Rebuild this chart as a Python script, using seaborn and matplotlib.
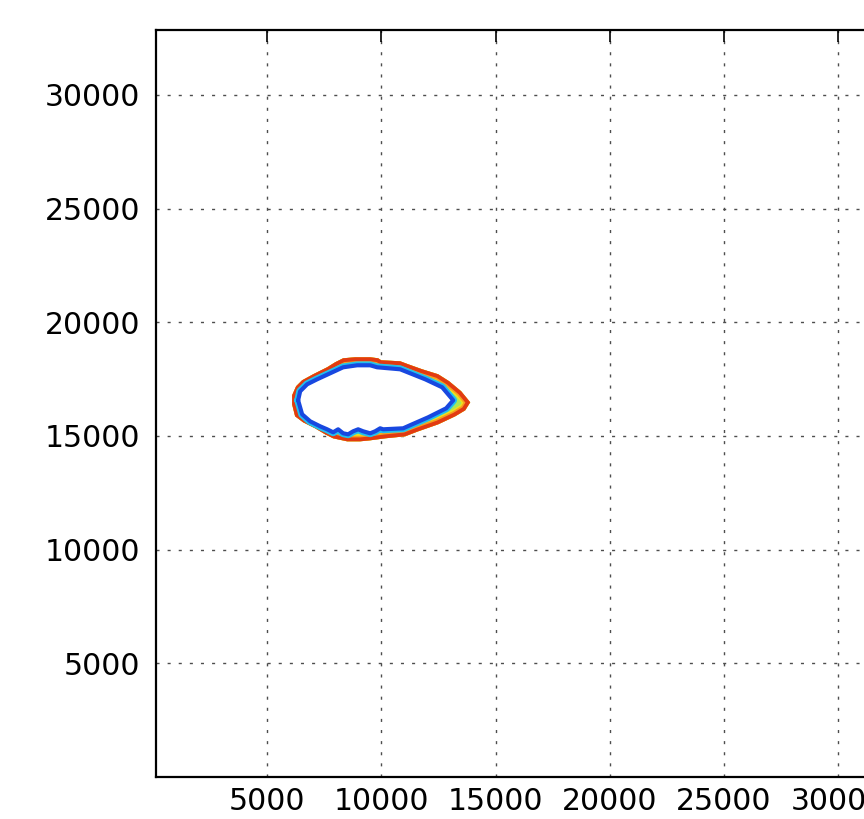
import numpy as np
import pandas as pd
import matplotlib
matplotlib.use("Agg")
import matplotlib.pyplot as plt
from matplotlib.patches import Polygon
import seaborn as sns

# ---- data (data units) ----
outer_x = [6088, 6088, 6263, 6526, 7008, 7621, 7972, 8322, 8848, 9505, 9855, 9986,
           10819, 11169, 11782, 12483, 12965, 13490, 13885, 13666, 13228, 12483,
           11607, 11038, 10162, 9505, 9067, 8497, 7884, 7534, 7096, 6570, 6220]
outer_y = [16394, 16790, 17186, 17450, 17714, 18022, 18242, 18418, 18462, 18462, 18418, 18330,
           18286, 18154, 17934, 17714, 17406, 16966, 16482, 16130, 15866, 15514,
           15206, 14986, 14898, 14810, 14766, 14766, 14898, 15074, 15338, 15602, 15866]

inner_x = [6351, 6439, 6745, 7183, 7753, 8322, 8935, 9505, 9811, 10819, 11257, 11914,
           12658, 13140, 12833, 12045, 11344, 10950, 10074, 9943, 9724, 9505, 9198,
           8979, 8760, 8541, 8322, 8103, 7884, 7621, 7315, 6877, 6526]
inner_y = [16570, 16966, 17274, 17494, 17758, 18022, 18110, 18110, 18022, 17934, 17758, 17494,
           17142, 16570, 16218, 15822, 15514, 15338, 15294, 15338, 15206, 15118, 15206,
           15294, 15206, 15074, 15118, 15294, 15162, 15294, 15426, 15646, 15954]

x_ticks = [5000, 10000, 15000, 20000, 25000, 30000]
y_ticks = [5000, 10000, 15000, 20000, 25000, 30000]
x_range = [130, 32768]
y_range = [0, 32860]

# ---- style ----
sns.set_style("white")
plt.rcParams["font.family"] = ["DejaVu Sans"]

fig = plt.figure(figsize=(8.64, 8.19), dpi=100)
ax = fig.add_axes([0.1806, 0.0513, 0.8628, 0.9121])
ax.set_xlim(*x_range)
ax.set_ylim(*y_range)

outer = pd.DataFrame({"x": outer_x + outer_x[:1], "y": outer_y + outer_y[:1]})
inner = pd.DataFrame({"x": inner_x + inner_x[:1], "y": inner_y + inner_y[:1]})

# base fill between outer and inner contours
base = Polygon(np.column_stack([outer_x, outer_y]), closed=True, facecolor="#a8e858",
               edgecolor="none", zorder=2)
ax.add_patch(base)
clip = Polygon(np.column_stack([outer_x, outer_y]), closed=True, transform=ax.transData)

# outer bands (clipped inside outer contour): widest first
for col, lw in [("#f2e21a", 10.0), ("#f5a020", 8.0), ("#e23a12", 5.6)]:
    sns.lineplot(data=outer, x="x", y="y", sort=False, estimator=None, color=col,
                 lw=lw, ax=ax, zorder=3)
    line = ax.lines[-1]
    line.set_clip_path(clip)
    line.set_solid_joinstyle("round")

# inner bands
sns.lineplot(data=inner, x="x", y="y", sort=False, estimator=None, color="#22c0ee",
             lw=5.6, ax=ax, zorder=4)
ax.lines[-1].set_solid_joinstyle("round")
ax.add_patch(Polygon(np.column_stack([inner_x, inner_y]), closed=True, facecolor="white",
                     edgecolor="none", zorder=5))
sns.lineplot(data=inner, x="x", y="y", sort=False, estimator=None, color="#1848e0",
             lw=3.0, ax=ax, zorder=6)
ax.lines[-1].set_solid_joinstyle("round")

# ---- axes cosmetics (classic look) ----
ax.set_xticks(x_ticks)
ax.set_yticks(y_ticks)
ax.set_xlabel("")
ax.set_ylabel("")
ax.tick_params(axis="both", which="major", direction="in", length=8.6, width=1.2,
               labelsize=21.5, colors="black", top=True, right=True)
ax.tick_params(axis="y", pad=11.5)
ax.tick_params(axis="x", pad=7)
for s in ax.spines.values():
    s.set_visible(True)
    s.set_color("black")
    s.set_linewidth(1.6)
ax.grid(True, color="0.3", linewidth=1.0, linestyle=(0, (2.2, 5.8)))
ax.set_axisbelow(True)

fig.savefig("out.png", dpi=100, facecolor="white")
